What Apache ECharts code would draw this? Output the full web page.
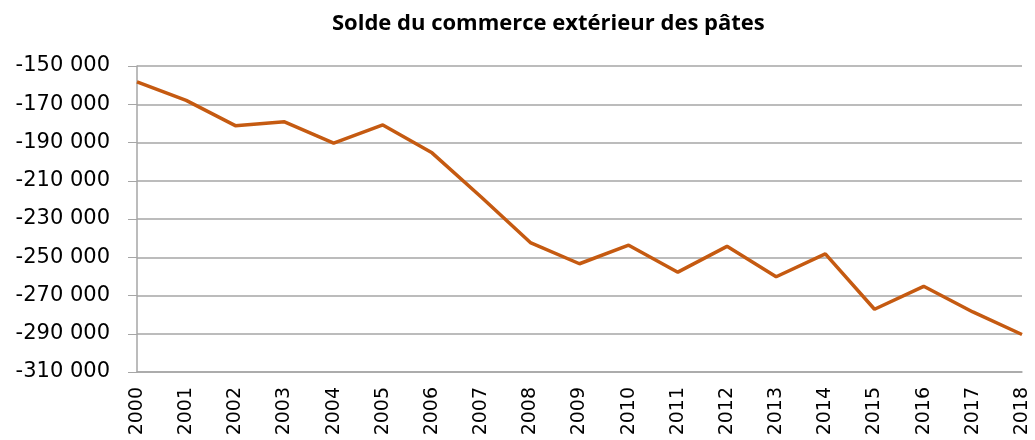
<!DOCTYPE html>
<html>
<head>
<meta charset="utf-8">
<script src="https://cdn.jsdelivr.net/npm/echarts@6/dist/echarts.min.js"></script>
<style>
  html, body { margin: 0; padding: 0; background: #fff; }
  #chart { width: 1035px; height: 440px; }
</style>
</head>
<body>
<div id="chart"></div>
<script>
const years = ['2000', '2001', '2002', '2003', '2004', '2005', '2006', '2007', '2008', '2009',
  '2010', '2011', '2012', '2013', '2014', '2015', '2016', '2017', '2018']
const solde = [-158300, -168000, -181200, -179200, -190300, -180800, -195400, -218500, -242300, -253400,
  -243700, -257800, -244300, -260200, -248200, -277200, -265200, -278600, -290400]
const yMin = -310000
const yMax = -150000
const yStep = 20000

const chart = echarts.init(document.getElementById('chart'))

function fmt(v) {
  const s = String(Math.abs(v)).replace(/\B(?=(\d{3})+(?!\d))/g, ' ')
  return (v < 0 ? '-' : '') + s
}

chart.setOption({
  animation: false,
  textStyle: { fontFamily: 'DejaVu Sans' },
  title: {
    text: 'Solde du commerce extérieur des pâtes',
    left: 327,
    top: 8,
    textStyle: { fontFamily: 'Open Sans', fontWeight: 'bold', fontSize: 22, color: '#000' }
  },
  grid: { left: 137, right: 13, top: 66, bottom: 68 },
  xAxis: {
    type: 'category',
    data: years,
    boundaryGap: false,
    axisLine: { lineStyle: { color: '#a6a6a6', width: 1.5 } },
    axisTick: { show: false },
    axisLabel: { rotate: 90, color: '#000', fontSize: 19, margin: 15, fontFamily: 'DejaVu Sans' }
  },
  yAxis: {
    type: 'value',
    min: yMin,
    max: yMax,
    interval: yStep,
    axisLine: { show: true, lineStyle: { color: '#a6a6a6', width: 1.5 } },
    axisTick: { show: true, length: 9, lineStyle: { color: '#a6a6a6' } },
    splitLine: { lineStyle: { color: '#a6a6a6', width: 1.5 } },
    axisLabel: { color: '#000', fontSize: 21, margin: 27, formatter: fmt, fontFamily: 'DejaVu Sans' }
  },
  series: [{
    name: 'Solde',
    type: 'line',
    data: solde,
    showSymbol: false,
    lineStyle: { color: '#c55a11', width: 3.5 },
    itemStyle: { color: '#c55a11' }
  }]
})
</script>
</body>
</html>
